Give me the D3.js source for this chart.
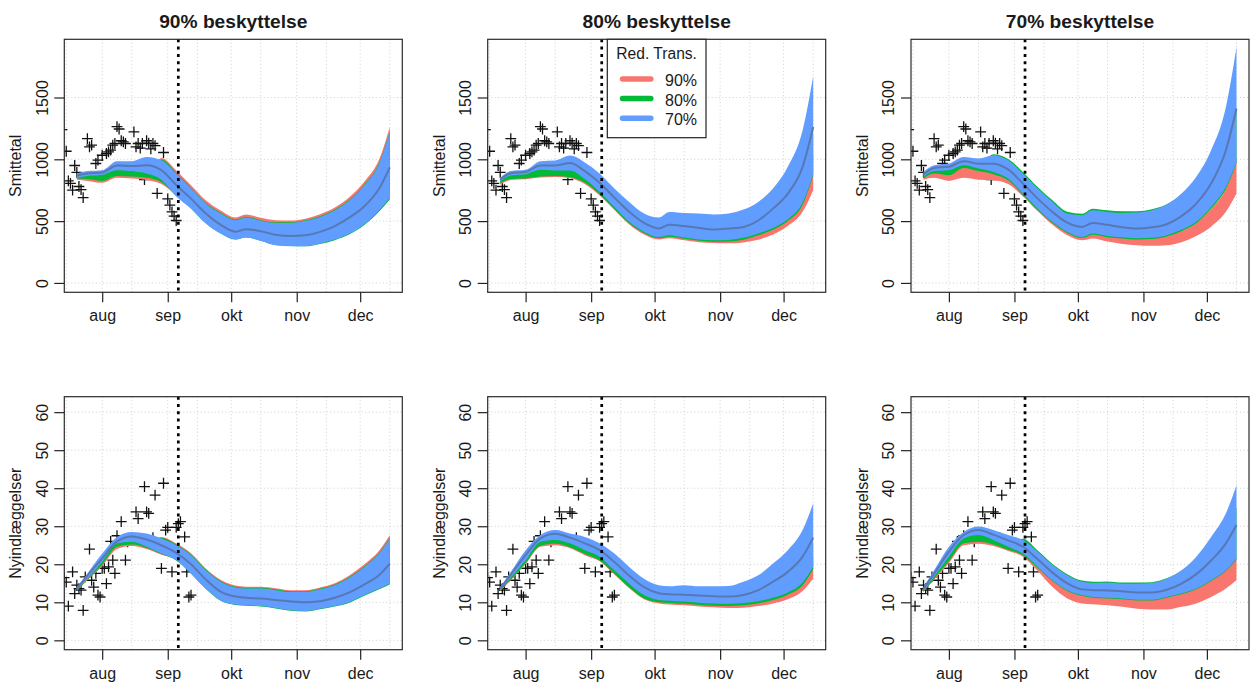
<!DOCTYPE html>
<html>
<head>
<meta charset="utf-8">
<script src="https://cdn.jsdelivr.net/npm/d3@7"></script>
<style>
  body { margin: 0; background: #fff; }
  svg { display: block; }
  text { font-family: "Liberation Sans", Arial, Helvetica, sans-serif; fill: #1a1a1a; }
</style>
</head>
<body>
<svg id="chart" width="1250" height="684"></svg>
<script>
// ---------- data ----------
const titles = ["90% beskyttelse", "80% beskyttelse", "70% beskyttelse"];
const rowLabels = ["Smittetal", "Nyindlæggelser"];
const scenarioNames = ["90%", "80%", "70%"];
const legendTitle = "Red. Trans.";

const monthTicks = ["2021-08-01", "2021-09-01", "2021-10-01", "2021-11-01", "2021-12-01"];
const monthLabels = ["aug", "sep", "okt", "nov", "dec"];
const gridDates = ["2021-07-15", "2021-08-01", "2021-08-15", "2021-09-01", "2021-09-15", "2021-10-01",
                   "2021-10-15", "2021-11-01", "2021-11-15", "2021-12-01", "2021-12-15"];
const cutoffDate = "2021-09-06";

const caseTicks = [0, 500, 1000, 1500];
const hospTicks = [0, 10, 20, 30, 40, 50, 60];
const caseYMax = 1895;
const hospYMax = 61.6;

// projection dates
const dates = ["2021-07-20", "2021-07-25", "2021-08-01", "2021-08-08", "2021-08-15", "2021-08-22",
               "2021-08-29", "2021-09-05", "2021-09-12", "2021-09-19", "2021-09-26", "2021-10-03",
               "2021-10-08", "2021-10-15", "2021-10-22", "2021-10-29", "2021-11-05", "2021-11-12",
               "2021-11-19", "2021-11-26", "2021-12-03", "2021-12-10", "2021-12-15"];

// observed daily cases
const caseObsDates = ["2021-07-13", "2021-07-15", "2021-07-16", "2021-07-17", "2021-07-18", "2021-07-19",
  "2021-07-20", "2021-07-21", "2021-07-22", "2021-07-23", "2021-07-25", "2021-07-26", "2021-07-27",
  "2021-07-29", "2021-07-30", "2021-08-01", "2021-08-03", "2021-08-04", "2021-08-05", "2021-08-06",
  "2021-08-07", "2021-08-08", "2021-08-09", "2021-08-10", "2021-08-11", "2021-08-12", "2021-08-16",
  "2021-08-17", "2021-08-18", "2021-08-19", "2021-08-20", "2021-08-21", "2021-08-22", "2021-08-23",
  "2021-08-24", "2021-08-25", "2021-08-26", "2021-08-27", "2021-08-30", "2021-09-01", "2021-09-02",
  "2021-09-03", "2021-09-04", "2021-09-05"];
const caseObsValues = [1240, 1065, 825, 805, 750, 950,
  895, 780, 755, 690, 1168, 1100, 1114,
  966, 993, 1033, 1047, 1060, 1074, 1114,
  1128, 1265, 1245, 1150, 1141, 1128, 1222,
  1100, 1128, 1090, 1128, 835, 1150, 1130,
  1085, 1128, 1110, 725, 1055, 680, 629,
  575, 540, 505];

// observed daily admissions
const hospObsDates = ["2021-07-14", "2021-07-15", "2021-07-16", "2021-07-18", "2021-07-19", "2021-07-20",
  "2021-07-21", "2021-07-22", "2021-07-23", "2021-07-24", "2021-07-26", "2021-07-27", "2021-07-28",
  "2021-07-29", "2021-07-30", "2021-07-31", "2021-08-01", "2021-08-02", "2021-08-03", "2021-08-04",
  "2021-08-05", "2021-08-06", "2021-08-07", "2021-08-08", "2021-08-10", "2021-08-12", "2021-08-13",
  "2021-08-17", "2021-08-18", "2021-08-21", "2021-08-22", "2021-08-23", "2021-08-25", "2021-08-26",
  "2021-08-29", "2021-08-30", "2021-08-31", "2021-09-01", "2021-09-03", "2021-09-05", "2021-09-06",
  "2021-09-07", "2021-09-09", "2021-09-10", "2021-09-11", "2021-09-12"];
const hospObsValues = [16.5, 15.3, 9.0, 18.0, 12.3, 14.5,
  13.6, 13.2, 7.9, 16.7, 24.0, 15.8, 14.0,
  17.6, 11.9, 11.4, 18.9, 18.9, 14.9, 19.3,
  26.0, 21.1, 17.6, 27.5, 31.2, 21.1, 25.9,
  33.8, 32.0, 40.4, 33.8, 33.4, 27.0, 38.2,
  18.9, 41.3, 29.0, 29.7, 18.0, 29.7, 30.7,
  31.2, 27.2, 18.0, 11.4, 11.9];

// Smittetal, 90% beskyttelse
const c90_rt90_lo = [835, 825, 810, 850, 845, 833, 800, 710, 610, 490, 410, 360, 375, 350, 315, 305, 305, 325, 360, 410, 488, 600, 700];
const c90_rt90_hi = [870, 880, 880, 905, 900, 890, 1010, 910, 790, 668, 585, 530, 553, 527, 508, 505, 520, 555, 610, 695, 820, 1000, 1262];
const c90_rt80_lo = [845, 840, 825, 865, 860, 850, 815, 705, 603, 482, 400, 352, 368, 341, 306, 298, 296, 315, 346, 393, 468, 578, 675];
const c90_rt80_hi = [875, 885, 885, 915, 910, 895, 998, 892, 770, 648, 567, 513, 535, 508, 491, 491, 508, 540, 594, 675, 797, 973, 1230];
const c90_rt70_lo = [850, 865, 875, 912, 905, 885, 835, 700, 601, 480, 399, 351, 367, 340, 305, 297, 297, 318, 351, 399, 475, 588, 690];
const c90_rt70_hi = [885, 905, 912, 985, 985, 1019, 992, 885, 763, 642, 561, 507, 529, 502, 485, 485, 502, 534, 588, 669, 790, 966, 1222];
const c90_rt70_mid = [868, 885, 893, 950, 945, 952, 912, 792, 682, 561, 470, 415, 435, 418, 390, 380, 386, 413, 460, 530, 620, 763, 935];

// Smittetal, 80% beskyttelse
const c80_rt90_lo = [795, 832, 838, 852, 857, 847, 800, 708, 590, 472, 392, 352, 362, 345, 330, 322, 320, 328, 350, 392, 460, 575, 750];
const c80_rt90_hi = [825, 875, 885, 915, 912, 910, 845, 740, 620, 500, 418, 378, 392, 372, 357, 350, 352, 368, 402, 462, 560, 720, 1033];
const c80_rt80_lo = [805, 840, 845, 860, 865, 855, 810, 718, 598, 482, 402, 362, 374, 357, 342, 334, 336, 350, 385, 430, 500, 632, 870];
const c80_rt80_hi = [830, 880, 890, 925, 920, 915, 850, 748, 628, 508, 424, 384, 398, 378, 362, 355, 358, 375, 410, 470, 560, 760, 1208];
const c80_rt70_lo = [820, 870, 880, 915, 910, 910, 840, 736, 615, 494, 413, 372, 386, 367, 352, 345, 348, 365, 400, 445, 515, 650, 880];
const c80_rt70_hi = [850, 905, 915, 985, 990, 1030, 975, 885, 763, 655, 561, 529, 574, 566, 561, 553, 561, 593, 655, 763, 939, 1235, 1672];
const c80_rt70_mid = [835, 888, 898, 950, 950, 970, 905, 810, 690, 575, 485, 440, 470, 460, 445, 432, 440, 453, 505, 601, 723, 939, 1262];

// Smittetal, 70% beskyttelse
const c70_rt90_lo = [835, 850, 825, 850, 835, 830, 800, 700, 580, 470, 385, 345, 360, 335, 315, 305, 300, 305, 330, 380, 455, 575, 723];
const c70_rt90_hi = [860, 905, 905, 940, 915, 890, 840, 720, 598, 490, 410, 368, 394, 375, 365, 358, 360, 380, 420, 485, 600, 765, 1019];
const c70_rt80_lo = [845, 885, 871, 930, 905, 880, 830, 712, 590, 484, 404, 363, 390, 370, 360, 352, 355, 375, 418, 482, 600, 760, 966];
const c70_rt80_hi = [870, 920, 925, 965, 940, 1040, 1002, 898, 776, 668, 575, 560, 600, 587, 579, 580, 596, 636, 715, 835, 1010, 1250, 1384];
const c70_rt70_lo = [858, 905, 912, 952, 925, 898, 844, 723, 601, 494, 413, 372, 399, 380, 370, 362, 365, 386, 430, 494, 615, 777, 975];
const c70_rt70_hi = [898, 952, 966, 1019, 1006, 1033, 992, 885, 763, 655, 561, 547, 588, 574, 566, 569, 588, 634, 723, 858, 1073, 1424, 1909];
const c70_rt70_mid = [878, 930, 940, 985, 965, 965, 918, 804, 682, 574, 487, 453, 485, 470, 450, 440, 450, 475, 540, 642, 804, 1073, 1411];

// Nyindlæggelser, 90% beskyttelse
const h90_rt90_lo = [13.0, 15.8, 19.5, 24.0, 24.8, 24.0, 22.5, 21.3, 17.8, 13.8, 10.7, 9.6, 9.4, 9.2, 8.7, 8.1, 7.9, 8.5, 9.2, 10.3, 12.1, 13.8, 15.2];
const h90_rt90_hi = [13.6, 16.5, 20.8, 25.3, 25.5, 25.0, 27.2, 25.5, 22.9, 18.9, 15.9, 14.4, 14.1, 14.1, 13.7, 13.2, 13.2, 13.9, 15.0, 17.1, 20.0, 23.6, 27.7];
const h90_rt80_lo = [13.1, 16.0, 19.9, 24.6, 25.2, 24.3, 22.7, 21.0, 17.5, 13.5, 10.4, 9.3, 9.1, 8.9, 8.4, 7.8, 7.6, 8.2, 8.9, 9.9, 11.7, 13.4, 14.7];
const h90_rt80_hi = [13.8, 16.8, 21.2, 25.8, 26.2, 25.3, 27.0, 25.2, 22.6, 18.6, 15.6, 14.1, 13.8, 13.8, 13.4, 12.9, 12.9, 13.6, 14.7, 16.7, 19.5, 23.0, 27.0];
const h90_rt70_lo = [13.2, 16.2, 20.6, 25.5, 25.9, 24.6, 22.8, 21.1, 17.6, 13.6, 10.5, 9.4, 9.2, 9.0, 8.5, 7.9, 7.7, 8.3, 9.0, 10.1, 11.9, 13.6, 14.9];
const h90_rt70_hi = [14.0, 17.6, 22.8, 27.2, 28.5, 28.1, 26.8, 25.0, 22.4, 18.4, 15.4, 13.9, 13.6, 13.6, 13.2, 12.7, 12.7, 13.4, 14.5, 16.5, 19.3, 22.8, 26.8];
const h90_rt70_mid = [13.5, 17.0, 21.5, 26.0, 27.3, 26.5, 25.0, 23.0, 20.0, 16.0, 12.8, 11.5, 11.2, 11.0, 10.6, 10.2, 10.0, 10.3, 11.2, 12.6, 14.7, 17.2, 20.2];

// Nyindlæggelser, 80% beskyttelse
const h80_rt90_lo = [12.9, 15.8, 20.0, 24.6, 25.0, 24.2, 22.4, 20.8, 17.3, 13.7, 10.8, 9.7, 9.4, 9.2, 8.9, 8.7, 8.5, 8.6, 9.0, 9.7, 10.8, 13.0, 16.2];
const h80_rt90_hi = [13.5, 16.8, 21.5, 25.8, 26.2, 25.5, 24.0, 22.5, 19.5, 15.5, 12.5, 11.3, 11.1, 11.0, 10.8, 10.7, 10.6, 11.0, 11.8, 13.5, 15.8, 18.8, 22.0];
const h80_rt80_lo = [13.0, 16.0, 20.3, 24.9, 25.4, 24.5, 22.7, 21.0, 17.5, 13.9, 11.0, 10.0, 9.8, 9.6, 9.3, 9.1, 9.0, 9.2, 9.7, 10.6, 12.0, 14.5, 18.7];
const h80_rt80_hi = [13.7, 17.0, 22.0, 26.3, 27.0, 26.0, 24.5, 23.0, 20.0, 16.0, 13.0, 11.8, 11.6, 11.5, 11.3, 11.2, 11.1, 11.5, 12.5, 14.5, 17.2, 20.8, 25.5];
const h80_rt70_lo = [13.2, 16.5, 21.0, 25.9, 26.4, 25.5, 23.7, 22.0, 18.4, 14.9, 11.9, 10.6, 10.4, 10.2, 9.9, 9.7, 9.6, 9.8, 10.3, 11.2, 12.6, 15.2, 19.4];
const h80_rt70_hi = [14.0, 18.0, 23.7, 27.7, 29.0, 28.1, 27.2, 25.5, 22.8, 19.3, 16.2, 14.5, 14.2, 14.5, 14.2, 14.2, 14.3, 15.4, 17.1, 20.2, 23.7, 29.0, 36.0];
const h80_rt70_mid = [13.5, 17.3, 22.4, 26.8, 28.0, 27.0, 25.5, 23.7, 20.6, 17.0, 14.0, 12.4, 12.1, 12.0, 11.8, 11.6, 11.5, 11.9, 13.2, 15.4, 18.0, 22.0, 27.0];

// Nyindlæggelser, 70% beskyttelse
const h70_rt90_lo = [12.7, 15.9, 20.3, 25.0, 25.4, 24.8, 23.5, 22.0, 18.2, 14.0, 11.0, 9.7, 9.5, 9.2, 8.8, 8.3, 8.1, 8.1, 8.8, 9.7, 11.4, 13.6, 15.8];
const h70_rt90_hi = [13.3, 16.7, 21.5, 26.0, 26.5, 25.8, 24.3, 22.9, 19.5, 15.9, 13.3, 12.0, 11.5, 11.3, 11.1, 10.8, 10.8, 11.5, 12.4, 13.7, 15.9, 18.5, 21.5];
const h70_rt80_lo = [12.8, 16.2, 20.8, 25.5, 25.9, 25.2, 23.8, 22.4, 19.0, 15.6, 13.0, 11.7, 11.2, 11.0, 10.8, 10.5, 10.5, 11.2, 12.1, 13.4, 15.6, 18.2, 21.2];
const h70_rt80_hi = [13.5, 17.0, 22.5, 27.0, 27.9, 26.8, 26.0, 26.7, 23.6, 20.1, 17.4, 15.7, 15.4, 15.5, 15.2, 15.2, 15.3, 16.3, 18.3, 21.5, 26.0, 30.5, 35.0];
const h70_rt70_lo = [13.0, 16.7, 22.0, 26.8, 27.7, 26.4, 24.6, 22.8, 19.3, 15.8, 13.2, 11.9, 11.4, 11.2, 11.0, 10.7, 10.7, 11.4, 12.3, 13.6, 15.8, 18.4, 21.5];
const h70_rt70_hi = [14.0, 18.4, 24.6, 28.5, 29.9, 29.0, 27.7, 26.4, 23.3, 19.8, 17.1, 15.4, 15.1, 15.2, 14.9, 14.9, 15.1, 16.2, 18.4, 22.0, 27.2, 33.4, 40.8];
const h70_rt70_mid = [13.5, 17.5, 23.3, 27.7, 29.0, 27.8, 26.3, 24.6, 21.3, 17.8, 15.0, 13.4, 13.2, 13.1, 12.9, 12.6, 12.6, 13.3, 14.9, 17.4, 21.0, 25.5, 30.3];

// ---------- layout & style ----------
const colLeft = [64.3, 487.7, 911.0];
const rowTop = [39.3, 396.7];
const plotW = 338, plotH = 253;
const bandColors = ["#F8766D", "#00BA38", "#619CFF"];
const medianColor = "#5878b2";
const axisColor = "#222";

const parse = d3.utcParse("%Y-%m-%d");
const tDates = dates.map(parse);
const xStart = tDates[0], xEnd = tDates[tDates.length - 1];
const xPad = (xEnd - xStart) * 0.04;
const xDomain = [new Date(+xStart - xPad), new Date(+xEnd + xPad)];
const padded = (lo, hi) => { const p = (hi - lo) * 0.04; return [lo - p, hi + p]; };

const svg = d3.select("#chart");

const panels = [
  { row: 0, col: 0, yMax: caseYMax, ticks: caseTicks, obsD: caseObsDates, obsV: caseObsValues,
    bands: [[c90_rt90_lo, c90_rt90_hi], [c90_rt80_lo, c90_rt80_hi], [c90_rt70_lo, c90_rt70_hi]], mid: c90_rt70_mid },
  { row: 0, col: 1, yMax: caseYMax, ticks: caseTicks, obsD: caseObsDates, obsV: caseObsValues,
    bands: [[c80_rt90_lo, c80_rt90_hi], [c80_rt80_lo, c80_rt80_hi], [c80_rt70_lo, c80_rt70_hi]], mid: c80_rt70_mid, legend: true },
  { row: 0, col: 2, yMax: caseYMax, ticks: caseTicks, obsD: caseObsDates, obsV: caseObsValues,
    bands: [[c70_rt90_lo, c70_rt90_hi], [c70_rt80_lo, c70_rt80_hi], [c70_rt70_lo, c70_rt70_hi]], mid: c70_rt70_mid },
  { row: 1, col: 0, yMax: hospYMax, ticks: hospTicks, obsD: hospObsDates, obsV: hospObsValues,
    bands: [[h90_rt90_lo, h90_rt90_hi], [h90_rt80_lo, h90_rt80_hi], [h90_rt70_lo, h90_rt70_hi]], mid: h90_rt70_mid },
  { row: 1, col: 1, yMax: hospYMax, ticks: hospTicks, obsD: hospObsDates, obsV: hospObsValues,
    bands: [[h80_rt90_lo, h80_rt90_hi], [h80_rt80_lo, h80_rt80_hi], [h80_rt70_lo, h80_rt70_hi]], mid: h80_rt70_mid },
  { row: 1, col: 2, yMax: hospYMax, ticks: hospTicks, obsD: hospObsDates, obsV: hospObsValues,
    bands: [[h70_rt90_lo, h70_rt90_hi], [h70_rt80_lo, h70_rt80_hi], [h70_rt70_lo, h70_rt70_hi]], mid: h70_rt70_mid }
];

panels.forEach((p, k) => {
  const left = colLeft[p.col], top = rowTop[p.row];
  const x = d3.scaleUtc().domain(xDomain).range([left, left + plotW]);
  const y = d3.scaleLinear().domain(padded(0, p.yMax)).range([top + plotH, top]);
  const g = svg.append("g");

  const clipId = "clip" + k;
  svg.append("clipPath").attr("id", clipId)
    .append("rect").attr("x", left).attr("y", top).attr("width", plotW).attr("height", plotH);
  const inner = g.append("g").attr("clip-path", `url(#${clipId})`);

  // dotted grid
  inner.selectAll(".vgrid").data(gridDates.map(parse)).join("line")
    .attr("x1", d => x(d)).attr("x2", d => x(d)).attr("y1", top).attr("y2", top + plotH)
    .attr("stroke", "#cfcfcf").attr("stroke-width", 1).attr("stroke-dasharray", "1 2.5");
  inner.selectAll(".hgrid").data(p.ticks).join("line")
    .attr("x1", left).attr("x2", left + plotW).attr("y1", d => y(d)).attr("y2", d => y(d))
    .attr("stroke", "#cfcfcf").attr("stroke-width", 1).attr("stroke-dasharray", "1 2.5");

  // observations
  inner.selectAll(".obs").data(p.obsD.map((d, i) => [parse(d), p.obsV[i]])).join("path")
    .attr("transform", d => `translate(${x(d[0])},${y(d[1])})`)
    .attr("d", "M-5.4,0H5.4M0,-5.4V5.4")
    .attr("stroke", "#111").attr("stroke-width", 1.3).attr("fill", "none");

  // scenario bands
  const idx = d3.range(tDates.length);
  p.bands.forEach(([lo, hi], s) => {
    const area = d3.area()
      .x(i => x(tDates[i])).y0(i => y(lo[i])).y1(i => y(hi[i]))
      .curve(d3.curveMonotoneX);
    inner.append("path").datum(idx).attr("d", area).attr("fill", bandColors[s]);
  });

  // median
  const line = d3.line().x(i => x(tDates[i])).y(i => y(p.mid[i])).curve(d3.curveMonotoneX);
  inner.append("path").datum(idx).attr("d", line)
    .attr("fill", "none").attr("stroke", medianColor).attr("stroke-width", 2);

  // cutoff line
  const cx = x(parse(cutoffDate));
  g.append("line").attr("x1", cx).attr("x2", cx).attr("y1", top).attr("y2", top + plotH)
    .attr("stroke", "#000").attr("stroke-width", 2.7).attr("stroke-dasharray", "3 4.3");

  // box
  g.append("rect").attr("x", left).attr("y", top).attr("width", plotW).attr("height", plotH)
    .attr("fill", "none").attr("stroke", "#2b2b2b").attr("stroke-width", 1.2);

  // x axis
  const xa = g.append("g").attr("transform", `translate(0,${top + plotH})`)
    .call(d3.axisBottom(x).tickValues(monthTicks.map(parse))
      .tickFormat((d, i) => monthLabels[i]).tickSize(10).tickSizeOuter(0));
  xa.select(".domain").remove();
  xa.selectAll("line").attr("stroke", axisColor).attr("stroke-width", 1.2);
  xa.selectAll("text").attr("y", 29.2).attr("dy", 0)
    .attr("font-size", 16).attr("font-family", "Liberation Sans, Arial, sans-serif").attr("fill", "#1a1a1a");

  // y axis
  const ya = g.append("g").attr("transform", `translate(${left},0)`)
    .call(d3.axisLeft(y).tickValues(p.ticks).tickFormat(d3.format("d")).tickSize(10).tickSizeOuter(0));
  ya.select(".domain").remove();
  ya.selectAll("line").attr("stroke", axisColor).attr("stroke-width", 1.2);
  ya.selectAll("text").attr("transform", "rotate(-90)").attr("x", 0).attr("y", -16.8).attr("dy", 0)
    .attr("text-anchor", "middle")
    .attr("font-size", 16).attr("font-family", "Liberation Sans, Arial, sans-serif").attr("fill", "#1a1a1a");

  // y label
  g.append("text")
    .attr("transform", `translate(${left - 43},${top + plotH / 2}) rotate(-90)`)
    .attr("text-anchor", "middle").attr("font-size", 16)
    .text(rowLabels[p.row]);

  // title
  if (p.row === 0) {
    g.append("text").attr("x", left + plotW / 2).attr("y", 28)
      .attr("text-anchor", "middle").attr("font-size", 19.2).attr("font-weight", "bold")
      .text(titles[p.col]);
  }

  // legend
  if (p.legend) {
    const lx = 607.3, ly = top, lw = 98.7, lh = 98.4;
    const lg = g.append("g");
    lg.append("rect").attr("x", lx).attr("y", ly).attr("width", lw).attr("height", lh)
      .attr("fill", "#fff").attr("stroke", "#222").attr("stroke-width", 1.2);
    lg.append("text").attr("x", lx + lw / 2).attr("y", ly + 19.5)
      .attr("text-anchor", "middle").attr("font-size", 15.6).text(legendTitle);
    scenarioNames.forEach((nm, i) => {
      const yy = ly + 39.7 + i * 19.6;
      lg.append("line").attr("x1", 622.5).attr("x2", 650.8).attr("y1", yy).attr("y2", yy)
        .attr("stroke", bandColors[i]).attr("stroke-width", 5.5).attr("stroke-linecap", "round");
      lg.append("text").attr("x", 665).attr("y", yy + 7)
        .attr("font-size", 16).text(nm);
    });
  }
});
</script>
</body>
</html>
